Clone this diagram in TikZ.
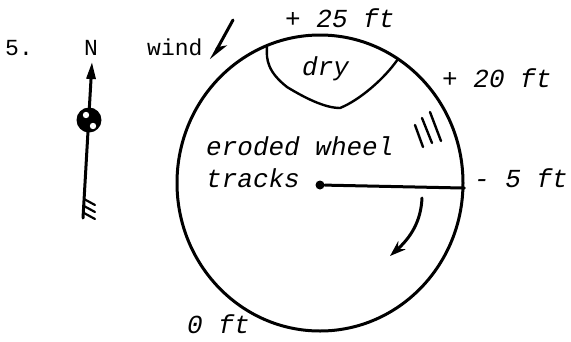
\documentclass[tikz,border=0pt]{standalone}
\usepackage{fontspec}
\setmonofont{Liberation Mono}
\usetikzlibrary{shapes.geometric, arrows.meta, positioning}

\begin{document}
\begin{tikzpicture}[
    x=1pt, y=-1pt,
    type/.style={anchor=base west, inner sep=0pt,
                 font=\ttfamily\fontsize{23}{23}\selectfont},
    hand/.style={anchor=base west, inner sep=0pt,
                 font=\ttfamily\itshape\fontsize{26}{26}\selectfont},
    pen/.style={line width=3pt, line cap=round, line join=round},
    arr/.style={pen, -{Stealth[length=16pt, width=11pt]}}
  ]
  \useasboundingbox (0,0) rectangle (571,341);

  % heading and compass
  \node[type] (num) at (5,55) {5.};
  \node[type] (north) at (84,55) {N};
  \node[type] (wind) at (147,55) {wind};

  \coordinate (tail) at (83,218);
  \coordinate (head) at (92,62);
  \draw[pen, -{Triangle[length=17pt, width=9pt]}] (tail) -- (head);
  \node[circle, fill=black, minimum size=25pt, inner sep=0pt] (station) at (89,120) {};
  \fill[white] (86,115) circle (3.2pt);
  \fill[white] (93,126) circle (3.2pt);
  \foreach \y in {199,206,213}
    \draw[pen, line width=2.2pt] (84,\y) -- (95,\y+6);

  % wind direction
  \coordinate (gust) at (233,20);
  \coordinate (gustend) at (211,60);
  \draw[pen, -{Stealth[harpoon, length=17pt, width=14pt]}] (gust) -- (gustend);

  % the field
  \node[ellipse, draw, line width=3pt, minimum width=286pt, minimum height=296pt,
        inner sep=0pt] (field) at (320,183) {};
  \draw[pen, line width=2.4pt] (267,47) .. controls (266,60) and (268,72) .. (287,87)
             .. controls (305,98) and (325,108) .. (340,108)
             .. controls (360,100) and (385,78) .. (398,59);

  \node[hand] (top) at (285,27) {+ 25 ft};
  \node[hand] (dry) at (302,75) {dry};
  \node[hand] (ne) at (442,87) {+ 20 ft};
  \node[hand] (east) at (474,187) {- 5 ft};
  \node[hand] (bottom) at (187,333) {0 ft};
  \node[hand] (eroded) at (206,155) {eroded wheel};
  \node[hand] (tracks) at (206,187) {tracks};

  % wheel tracks
  \draw[pen, line width=2.4pt] (415,125) -- (423,147);
  \draw[pen, line width=2.4pt] (422,118) -- (432,143);
  \draw[pen, line width=2.4pt] (430,112) -- (441,141);

  % radius and sweep
  \node[circle, fill=black, minimum size=9pt, inner sep=0pt] (hub) at (320,185) {};
  \draw[pen] (hub) -- (field.-2);
  \coordinate (sweep) at (422,198);
  \coordinate (sweepend) at (390,256);
  \draw[arr] (sweep) .. controls (421,222) and (410,238) .. (sweepend);

\end{tikzpicture}
\end{document}
